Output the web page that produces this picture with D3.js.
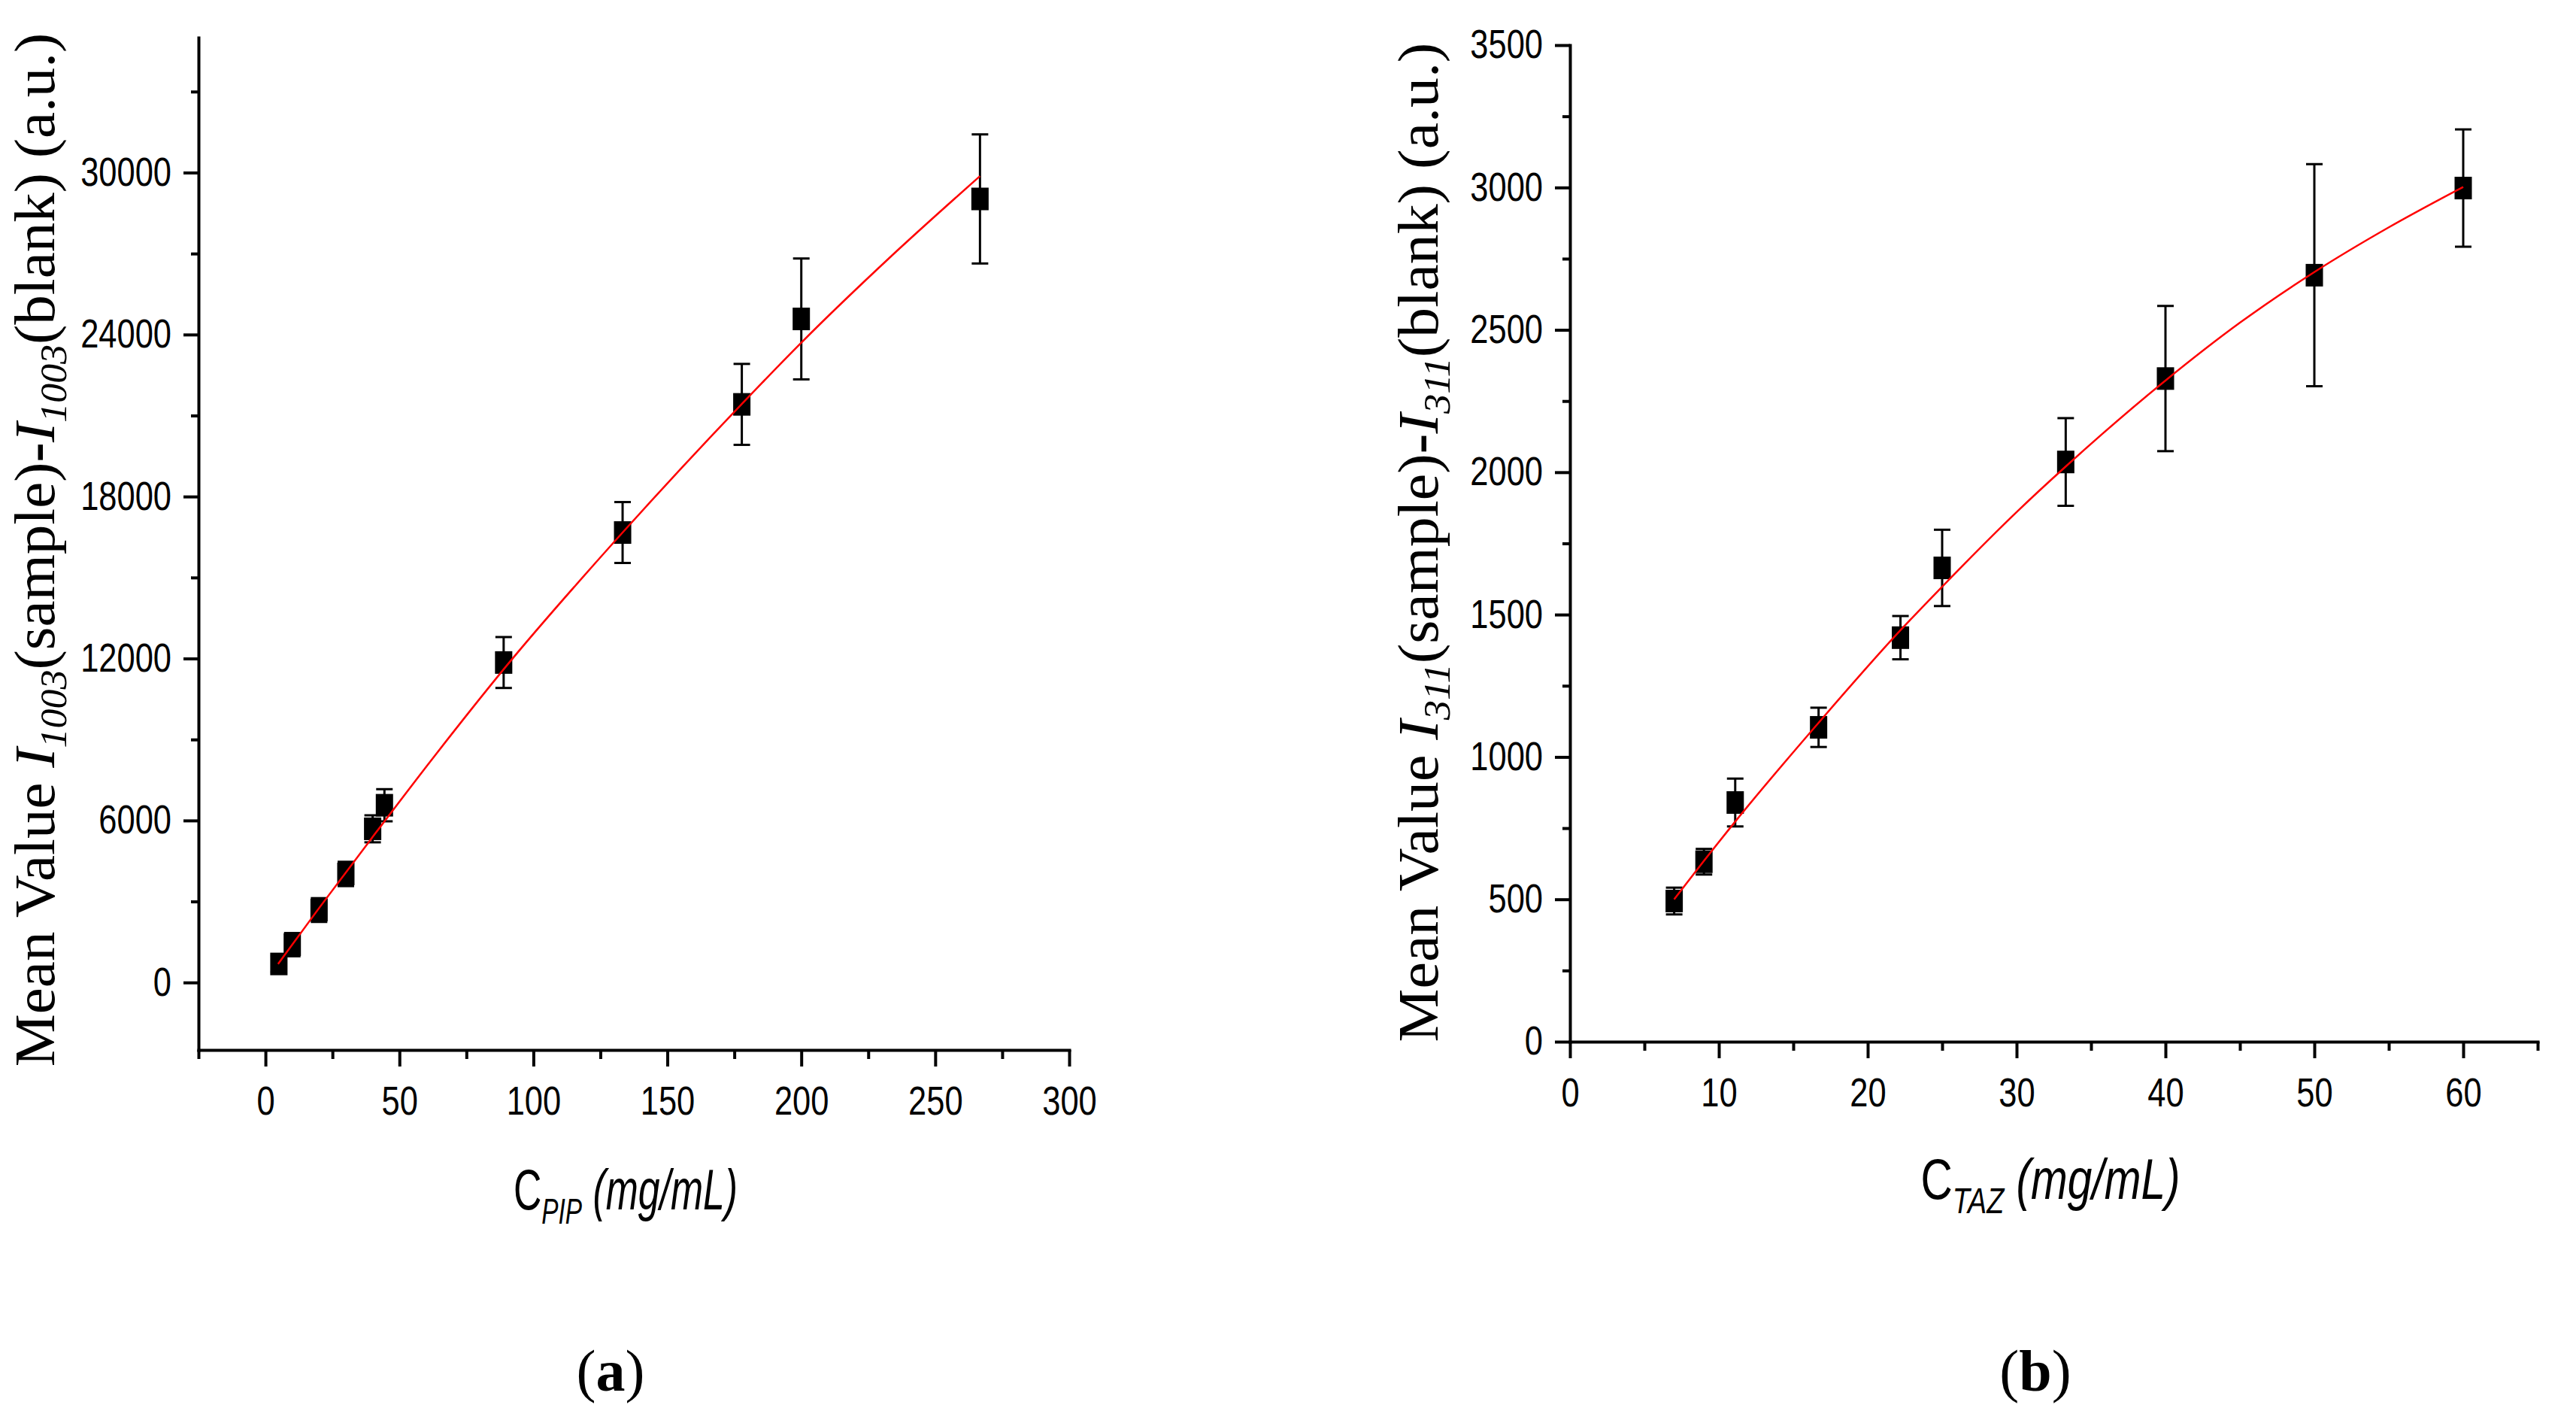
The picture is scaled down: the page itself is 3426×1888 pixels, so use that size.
<!DOCTYPE html>
<html>
<head>
<meta charset="utf-8">
<script src="https://cdn.jsdelivr.net/npm/d3@7"></script>
<style>
  body { margin: 0; background: #fff; }
  svg { display: block; }
</style>
</head>
<body>
<div id="chart"></div>
<script>
// panel (a): PIP calibration
const pipConc = [5, 10, 20, 30, 40, 44.4, 88.9, 133.3, 177.8, 200, 266.7];
const pipMean = [686, 1401, 2683, 4020, 5692, 6565, 11852, 16667, 21414, 24579, 29024];
const pipErr  = [300, 430, 440, 450, 500, 595, 943, 1128, 1499, 2239, 2391];
// red fitted curve
const pipFitX = [4.7, 20, 40, 63.6, 88.9, 133.3, 177.8, 200, 233, 266.7];
const pipFitY = [686, 2755, 5390, 8450, 11600, 16667, 21430, 23700, 26850, 29870];
const pipXTicks = [0, 50, 100, 150, 200, 250, 300];
const pipXMinor = [-25, 25, 75, 125, 175, 225, 275];
const pipYTicks = [0, 6000, 12000, 18000, 24000, 30000];
const pipYMinor = [3000, 9000, 15000, 21000, 27000, 33000];

// panel (b): TAZ calibration
const tazConc = [7, 9, 11.1, 16.7, 22.2, 25, 33.3, 40, 50, 60];
const tazMean = [494, 632, 840, 1104, 1419, 1664, 2036, 2329, 2692, 2998];
const tazErr  = [47, 45, 84, 69, 76, 134, 154, 255, 390, 206];
const tazFitX = [7, 9, 11.1, 16.7, 22.2, 25, 30, 33.3, 40, 45, 50, 55, 60];
const tazFitY = [500, 635, 773, 1120, 1445, 1598, 1860, 2020, 2322, 2525, 2703, 2860, 3002];
const tazXTicks = [0, 10, 20, 30, 40, 50, 60];
const tazXMinor = [5, 15, 25, 35, 45, 55, 65];
const tazYTicks = [0, 500, 1000, 1500, 2000, 2500, 3000, 3500];
const tazYMinor = [250, 750, 1250, 1750, 2250, 2750, 3250];

const width = 3426;
const height = 1888;
const sans = "'Liberation Sans', Arial, sans-serif";
const serif = "'Liberation Serif', 'Times New Roman', serif";
const narrow = 0.82;

const svg = d3.select('#chart')
  .append('svg')
  .attr('width', width)
  .attr('height', height)
  .attr('viewBox', [0, 0, width, height]);

svg.append('rect').attr('width', width).attr('height', height).attr('fill', '#fff');

function drawPanel(p) {
  const x = d3.scaleLinear().domain(p.xDomain).range([p.left, p.right]);
  const y = d3.scaleLinear().domain(p.yDomain).range([p.bottom, p.top]);
  const g = svg.append('g');

  // minor ticks
  g.append('g')
    .attr('transform', `translate(0,${p.bottom})`)
    .call(d3.axisBottom(x).tickValues(p.xMinor).tickSize(12).tickFormat('').tickSizeOuter(0))
    .call(a => a.select('.domain').remove());
  g.append('g')
    .attr('transform', `translate(${p.left},0)`)
    .call(d3.axisLeft(y).tickValues(p.yMinor).tickSize(10).tickFormat('').tickSizeOuter(0))
    .call(a => a.select('.domain').remove());

  // major ticks + axis lines
  const xa = g.append('g')
    .attr('transform', `translate(0,${p.bottom})`)
    .call(d3.axisBottom(x).tickValues(p.xTicks).tickSize(22).tickPadding(26).tickSizeOuter(0));
  const ya = g.append('g')
    .attr('transform', `translate(${p.left},0)`)
    .call(d3.axisLeft(y).tickValues(p.yTicks).tickSize(20).tickSizeOuter(0).tickFormat(d3.format('d')));

  g.selectAll('.tick line').attr('stroke', '#000').attr('stroke-width', 4);
  g.selectAll('.domain').attr('stroke', '#000').attr('stroke-width', 4).attr('stroke-linecap', 'square');

  g.selectAll('text')
    .attr('font-family', sans)
    .attr('font-size', 53)
    .attr('fill', '#000');
  xa.selectAll('text').attr('transform', `scale(${narrow},1)`);
  ya.selectAll('text')
    .attr('x', -36 / narrow)
    .attr('transform', `scale(${narrow},1)`);

  const pts = p.conc.map((c, i) => ({ c, m: p.mean[i], e: p.err[i] }));

  // error bars
  const eb = g.append('g').attr('stroke', '#000').attr('stroke-width', 3);
  eb.selectAll('line.v').data(pts).join('line')
    .attr('x1', d => x(d.c)).attr('x2', d => x(d.c))
    .attr('y1', d => y(d.m - d.e)).attr('y2', d => y(d.m + d.e));
  eb.selectAll('line.top').data(pts).join('line').attr('class', 'top')
    .attr('x1', d => x(d.c) - 11).attr('x2', d => x(d.c) + 11)
    .attr('y1', d => y(d.m + d.e)).attr('y2', d => y(d.m + d.e));
  eb.selectAll('line.bot').data(pts).join('line').attr('class', 'bot')
    .attr('x1', d => x(d.c) - 11).attr('x2', d => x(d.c) + 11)
    .attr('y1', d => y(d.m - d.e)).attr('y2', d => y(d.m - d.e));

  // square markers
  g.append('g').selectAll('rect').data(pts).join('rect')
    .attr('x', d => x(d.c) - 11.5)
    .attr('y', d => y(d.m) - 15)
    .attr('width', 23)
    .attr('height', 30)
    .attr('fill', '#000');

  // fitted curve
  const fit = p.fitX.map((v, i) => [v, p.fitY[i]]);
  g.append('path')
    .datum(fit)
    .attr('fill', 'none')
    .attr('stroke', '#ff0000')
    .attr('stroke-width', 2.5)
    .attr('d', d3.line().x(d => x(d[0])).y(d => y(d[1])).curve(d3.curveMonotoneX));
}

drawPanel({
  xDomain: [-25, 300], yDomain: [-2500, 35000],
  left: 264, right: 1422, top: 50, bottom: 1396,
  xTicks: pipXTicks, xMinor: pipXMinor, yTicks: pipYTicks, yMinor: pipYMinor,
  conc: pipConc, mean: pipMean, err: pipErr, fitX: pipFitX, fitY: pipFitY
});

drawPanel({
  xDomain: [0, 65], yDomain: [0, 3500],
  left: 2088, right: 3375, top: 60, bottom: 1385,
  xTicks: tazXTicks, xMinor: tazXMinor, yTicks: tazYTicks, yMinor: tazYMinor,
  conc: tazConc, mean: tazMean, err: tazErr, fitX: tazFitX, fitY: tazFitY
});

// y titles (rotated, squeezed along the reading direction to the measured length)
function yTitle(bx, cy, sub, target) {
  const t = svg.append('text')
    .attr('font-family', serif)
    .attr('font-size', 76)
    .attr('fill', '#000')
    .attr('text-anchor', 'middle');
  t.append('tspan').text('Mean Value ');
  t.append('tspan').attr('font-style', 'italic').text('I');
  t.append('tspan').attr('font-style', 'italic').attr('font-size', 50).attr('dy', 16).text(sub);
  t.append('tspan').attr('dy', -16).text('(sample)');
  t.append('tspan').attr('font-weight', 'bold').text('-');
  t.append('tspan').attr('font-style', 'italic').text('I');
  t.append('tspan').attr('font-style', 'italic').attr('font-size', 50).attr('dy', 16).text(sub);
  t.append('tspan').attr('dy', -16).text('(blank) (a.u.)');
  const len = t.node().getComputedTextLength();
  t.attr('transform', `translate(${bx},${cy}) rotate(-90) scale(${target / len},1)`);
}
yTitle(72, 731, '1003', 1375);
yTitle(1912, 721, '311', 1329);

// x titles
function xTitle(cx, by, sub, target) {
  const t = svg.append('text')
    .attr('font-family', sans)
    .attr('font-size', 76)
    .attr('fill', '#000')
    .attr('text-anchor', 'middle');
  t.append('tspan').text('C');
  t.append('tspan').attr('font-style', 'italic').attr('font-size', 49).attr('dy', 19).text(sub);
  t.append('tspan').attr('font-style', 'italic').attr('dy', -19).text(' (mg/mL)');
  const len = t.node().getComputedTextLength();
  t.attr('transform', `translate(${cx},${by}) scale(${target / len},1)`);
}
xTitle(832, 1608, 'PIP', 298);
xTitle(2727, 1594, 'TAZ', 345);

// panel letters
function panelLabel(cx, letter) {
  const t = svg.append('text')
    .attr('x', cx).attr('y', 1849)
    .attr('font-family', serif)
    .attr('font-size', 78)
    .attr('fill', '#000')
    .attr('text-anchor', 'middle');
  t.append('tspan').text('(');
  t.append('tspan').attr('font-weight', 'bold').text(letter);
  t.append('tspan').text(')');
}
panelLabel(812, 'a');
panelLabel(2707, 'b');
</script>
</body>
</html>
